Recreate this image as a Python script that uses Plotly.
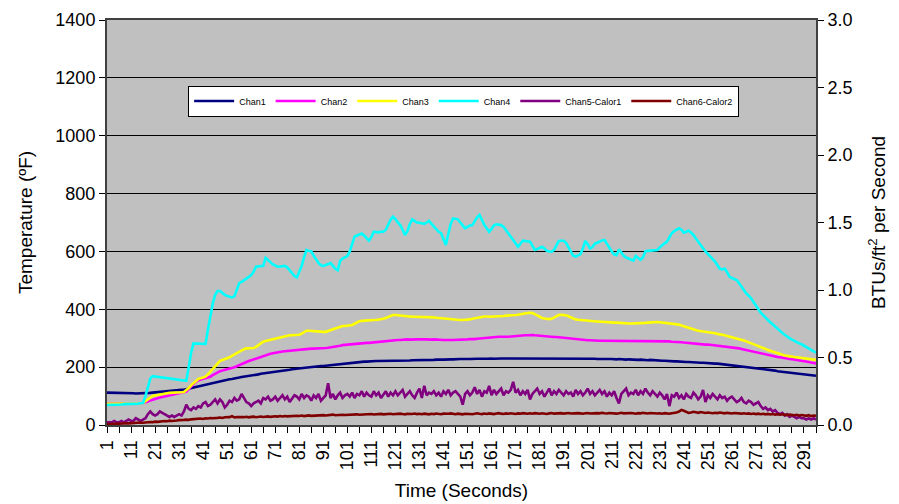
import plotly.graph_objects as go

# ---------------- data ----------------
tick_labels = [str(v) for v in range(1, 292, 10)]

chan1 = [
    112,112,111,111,111,110,110,110,110,110,
    110,110,109,109,109,109,110,111,111,112,
    113,114,115,116,117,118,118,119,120,121,
    121,122,122,124,126,128,129,131,133,136,
    138,140,142,144,146,148,150,152,153,155,
    156,158,159,160,162,164,166,167,168,170,
    171,172,174,175,177,178,180,181,183,184,
    185,186,187,188,189,190,191,193,194,196,
    197,198,199,200,200,201,202,202,203,204,
    204,205,205,206,207,208,209,210,211,212,
    213,214,215,216,217,218,218,219,219,220,
    220,220,221,221,221,222,221,222,222,221,
    222,221,222,223,222,223,223,224,224,223,
    224,224,225,225,224,225,225,226,225,226,
    226,227,226,227,227,228,227,228,228,227,
    228,228,229,228,229,229,228,229,229,230,
    230,229,230,229,230,230,229,230,230,230,
    229,230,230,231,230,230,231,230,230,231,
    230,231,230,230,231,230,230,230,231,230,
    230,231,230,230,229,230,230,229,230,229,
    229,230,229,229,228,229,228,228,229,228,
    228,227,227,228,227,227,226,227,226,226,
    226,225,226,225,225,224,225,224,223,223,
    223,222,222,221,221,221,220,220,219,219,
    219,218,218,217,217,216,216,215,215,214,
    214,213,213,212,212,211,210,210,209,208,
    207,207,206,205,204,203,202,201,200,199,
    198,197,196,194,193,192,190,189,188,186,
    185,184,183,182,181,180,179,178,177,176,
    175,174,173,172,171,170,
]

chan2 = [
    73,73,73,73,73,73,74,74,74,74,
    74,75,75,75,75,76,78,81,85,88,
    91,93,95,97,99,101,103,105,107,109,
    110,111,113,116,124,133,142,150,155,157,
    159,161,163,167,172,177,182,186,188,190,
    193,196,198,200,203,207,211,214,218,221,
    224,227,230,233,236,238,241,243,246,248,
    250,251,253,254,255,256,257,258,259,260,
    261,262,262,263,263,264,264,264,265,265,
    265,266,267,268,270,272,273,274,276,277,
    278,279,280,281,281,282,283,283,284,284,
    285,285,286,286,287,288,289,290,291,292,
    293,294,294,295,295,296,295,296,296,296,
    296,295,296,296,295,295,296,295,295,294,
    294,294,293,294,294,294,295,295,296,296,
    296,297,296,297,298,299,300,301,302,303,
    303,304,304,305,305,304,305,305,306,306,
    307,307,308,309,310,310,311,311,310,309,
    308,307,306,306,305,305,304,304,303,303,
    302,302,301,300,299,298,297,296,295,294,
    293,293,292,292,291,291,291,291,290,290,
    290,290,290,290,291,290,290,290,290,290,
    290,290,290,290,290,290,290,291,290,290,
    290,290,290,289,289,288,288,287,287,286,
    285,284,284,283,283,282,281,280,279,278,
    278,277,277,276,276,275,274,273,271,270,
    268,267,266,265,263,261,259,257,255,253,
    251,249,247,245,243,241,239,238,236,235,
    234,232,231,230,228,227,226,224,223,222,
    220,219,218,216,215,213,
]

chan3 = [
    73,73,73,73,73,73,74,74,74,74,
    74,75,75,75,75,76,82,88,94,100,
    102,104,106,108,110,110,111,111,112,112,
    112,113,114,120,128,137,145,152,159,162,
    164,167,175,185,195,205,214,222,225,228,
    230,234,239,244,249,254,258,262,265,265,
    265,266,270,276,282,288,290,292,294,296,
    299,301,304,306,308,309,310,310,311,311,
    312,316,321,326,326,325,324,323,322,322,
    322,322,325,328,331,334,337,340,342,342,
    343,343,346,350,355,359,360,361,362,362,
    363,363,363,364,364,367,370,374,377,380,
    380,379,377,376,375,375,374,374,374,374,
    374,373,373,373,372,372,372,371,370,369,
    368,367,366,365,365,364,364,363,363,363,
    364,365,367,369,371,373,374,375,375,374,
    374,375,375,376,377,377,378,378,378,379,
    380,381,383,385,386,387,388,387,383,378,
    374,370,368,366,366,367,372,377,380,381,
    381,379,376,372,368,365,364,363,363,362,
    361,360,360,359,358,357,357,356,356,355,
    355,354,354,353,353,352,352,351,351,351,
    351,351,351,352,353,354,355,356,356,356,
    355,354,353,352,352,351,350,349,347,344,
    341,338,335,332,330,328,326,325,323,322,
    321,319,318,317,315,314,312,310,308,306,
    303,301,299,297,294,292,289,286,283,280,
    277,273,270,267,263,259,256,253,250,247,
    244,242,240,239,237,236,235,234,233,231,
    230,229,228,227,226,225,
]

chan4 = [
    69,69,70,70,70,71,71,72,72,72,
    73,73,74,74,75,76,100,130,160,169,
    168,167,166,165,164,163,162,161,160,159,
    158,156,154,153,200,250,282,282,281,281,
    280,280,330,380,420,450,463,463,455,450,
    446,443,441,445,470,490,495,500,505,512,
    518,530,547,548,550,550,578,570,560,555,
    552,547,548,550,550,545,535,525,515,510,
    530,550,580,605,602,600,585,570,560,552,
    550,553,557,560,550,540,535,568,575,580,
    584,600,625,651,655,660,662,655,645,637,
    650,668,667,666,668,668,675,695,710,720,
    712,700,691,675,657,670,695,711,705,700,
    699,697,695,700,706,695,685,674,668,663,
    645,622,660,695,714,712,711,700,690,680,
    685,690,691,705,718,726,705,691,680,668,
    678,690,694,692,691,685,674,665,652,640,
    628,616,625,637,636,635,634,620,605,608,
    612,616,610,602,600,599,605,620,636,637,
    637,630,616,598,585,582,587,591,610,636,
    625,610,615,627,630,635,638,640,625,610,
    600,590,587,607,595,585,579,575,570,568,
    584,578,571,580,600,602,603,604,605,605,
    614,622,628,634,648,663,670,675,680,675,
    665,668,672,665,657,645,635,625,611,600,
    592,582,575,565,552,540,538,541,528,513,
    508,505,501,490,478,466,455,447,438,425,
    411,398,388,380,370,363,355,347,339,331,
    325,318,312,305,300,295,290,286,282,279,
    274,269,264,259,254,250,
]

chan5_calor1 = [
    .02,.02,.02,.03,.02,.02,.03,.02,.03,.04,
    .03,.03,.05,.04,.03,.04,.05,.08,.10,.08,
    .07,.08,.10,.09,.08,.07,.06,.07,.06,.07,
    .08,.07,.10,.15,.12,.11,.13,.12,.14,.13,
    .16,.17,.14,.15,.17,.19,.16,.19,.17,.13,
    .15,.18,.17,.20,.18,.19,.23,.20,.17,.16,
    .14,.16,.17,.18,.16,.20,.19,.21,.18,.19,
    .21,.18,.20,.22,.19,.21,.17,.20,.22,.21,
    .19,.23,.20,.22,.21,.18,.22,.20,.23,.18,
    .20,.22,.31,.20,.23,.19,.22,.24,.20,.22,
    .23,.21,.24,.20,.23,.22,.25,.21,.24,.22,
    .21,.25,.22,.24,.20,.23,.25,.21,.24,.22,
    .25,.22,.24,.26,.21,.23,.25,.22,.20,.24,
    .27,.20,.29,.22,.24,.23,.25,.22,.24,.21,
    .25,.23,.26,.22,.24,.25,.23,.21,.15,.23,
    .25,.22,.24,.28,.23,.26,.21,.25,.24,.29,
    .22,.26,.23,.25,.27,.22,.25,.24,.26,.32,
    .24,.26,.22,.25,.23,.26,.19,.23,.25,.27,
    .23,.25,.21,.24,.27,.22,.25,.23,.26,.24,
    .22,.25,.23,.24,.21,.26,.23,.25,.22,.24,
    .27,.23,.25,.22,.24,.26,.23,.25,.21,.24,
    .22,.25,.20,.16,.23,.25,.27,.22,.24,.23,
    .26,.22,.25,.23,.27,.24,.22,.25,.23,.21,
    .24,.22,.19,.23,.14,.22,.21,.24,.20,.22,
    .19,.23,.21,.20,.24,.22,.19,.21,.26,.17,
    .22,.20,.23,.21,.19,.22,.20,.21,.18,.20,
    .21,.19,.17,.18,.20,.17,.16,.18,.17,.15,
    .16,.17,.14,.12,.13,.11,.12,.10,.11,.09,
    .08,.09,.07,.08,.06,.07,.06,.05,.06,.05,
    .05,.04,.05,.04,.05,.04,
]

chan6_calor2 = [
    .006,.008,.007,.009,.008,.010,.012,.010,.013,.012,
    .014,.012,.016,.015,.018,.017,.020,.019,.022,.021,
    .025,.023,.027,.026,.030,.028,.032,.030,.034,.033,
    .036,.035,.038,.040,.038,.042,.044,.041,.046,.048,
    .045,.050,.048,.052,.050,.054,.053,.055,.052,.057,
    .055,.058,.066,.056,.059,.057,.060,.058,.061,.057,
    .060,.062,.058,.061,.063,.059,.062,.064,.060,.063,
    .065,.062,.066,.063,.067,.064,.066,.068,.065,.069,
    .067,.070,.066,.069,.071,.068,.070,.072,.069,.071,
    .073,.070,.072,.074,.077,.072,.075,.073,.076,.074,
    .076,.078,.075,.077,.079,.076,.078,.080,.077,.079,
    .081,.078,.080,.077,.082,.079,.081,.078,.083,.080,
    .082,.079,.084,.081,.079,.083,.080,.082,.085,.081,
    .083,.080,.084,.082,.079,.083,.081,.085,.082,.080,
    .084,.081,.083,.086,.082,.080,.084,.081,.079,.083,
    .085,.082,.080,.084,.087,.083,.081,.085,.082,.086,
    .083,.081,.085,.088,.084,.082,.086,.083,.087,.085,
    .082,.086,.084,.088,.085,.083,.087,.084,.088,.086,
    .083,.087,.085,.082,.086,.089,.084,.087,.085,.088,
    .084,.086,.089,.085,.087,.084,.088,.086,.083,.087,
    .089,.085,.087,.084,.088,.086,.090,.087,.085,.089,
    .086,.088,.084,.087,.090,.086,.088,.085,.089,.087,
    .084,.088,.086,.090,.087,.085,.089,.086,.088,.085,
    .087,.084,.088,.086,.083,.087,.089,.092,.100,.112,
    .105,.095,.090,.093,.098,.094,.090,.096,.092,.089,
    .093,.090,.087,.091,.088,.092,.089,.086,.090,.087,
    .085,.089,.086,.088,.084,.087,.083,.086,.082,.085,
    .081,.084,.080,.083,.079,.082,.078,.081,.077,.080,
    .076,.079,.075,.073,.077,.074,.072,.076,.070,.074,
    .071,.068,.073,.066,.070,.068,
]

# ---------------- figure ----------------
FONT = "Arial, Liberation Sans, sans-serif"

series = [
    ("Chan1", chan1, "#000080", "y"),
    ("Chan2", chan2, "#FF00FF", "y"),
    ("Chan3", chan3, "#FFFF00", "y"),
    ("Chan4", chan4, "#00FFFF", "y"),
    ("Chan5-Calor1", chan5_calor1, "#800080", "y2"),
    ("Chan6-Calor2", chan6_calor2, "#800000", "y2"),
]

fig = go.Figure()
for name, vals, color, ax in series:
    fig.add_trace(go.Scatter(
        x=list(range(1, len(vals) + 1)), y=vals, name=name, mode="lines",
        line=dict(color=color, width=2.6), yaxis=ax,
    ))

n_points = len(chan1)

fig.update_layout(
    width=891, height=496,
    margin=dict(l=99, r=83, t=12, b=79),
    paper_bgcolor="white",
    plot_bgcolor="#C0C0C0",
    font=dict(family=FONT, color="black", size=18),
    showlegend=True,
    legend=dict(
        orientation="h", x=0.503, y=0.80, xanchor="center", yanchor="middle",
        bgcolor="white", bordercolor="black", borderwidth=1,
        font=dict(family=FONT, size=9, color="black"),
        itemwidth=40, tracegroupgap=0,
    ),
    xaxis=dict(
        range=[1, n_points],
        tickmode="array",
        tickvals=list(range(1, 292, 10)),
        ticktext=tick_labels,
        tickangle=-90,
        ticks="outside", ticklen=6, tickcolor="black",
        minor=dict(ticks="outside", ticklen=6, dtick=5, tick0=1, tickcolor="black"),
        showgrid=False, zeroline=False,
        showline=True, linecolor="#404040", linewidth=2, mirror=True,
        tickfont=dict(size=18),
        title=dict(text="Time (Seconds)", font=dict(size=19), standoff=14),
        automargin=False,
    ),
    yaxis=dict(
        range=[0, 1400], dtick=200, tick0=0,
        ticks="outside", ticklen=6, tickcolor="black",
        showgrid=True, gridcolor="black", gridwidth=1,
        zeroline=False,
        showline=True, linecolor="#404040", linewidth=2, mirror=True,
        tickfont=dict(size=18),
        title=dict(text="Temperature (ºF)", font=dict(size=19), standoff=18),
        automargin=False,
    ),
    yaxis2=dict(
        range=[0, 3.0], dtick=0.5, tick0=0, tickformat=".1f",
        overlaying="y", side="right",
        ticks="outside", ticklen=6, tickcolor="black",
        showgrid=False, zeroline=False,
        showline=True, linecolor="#404040", linewidth=2,
        tickfont=dict(size=18),
        title=dict(text="BTUs/ft<sup>2</sup> per Second", font=dict(size=19), standoff=20),
        automargin=False,
    ),
)

fig.write_html("out.html")
